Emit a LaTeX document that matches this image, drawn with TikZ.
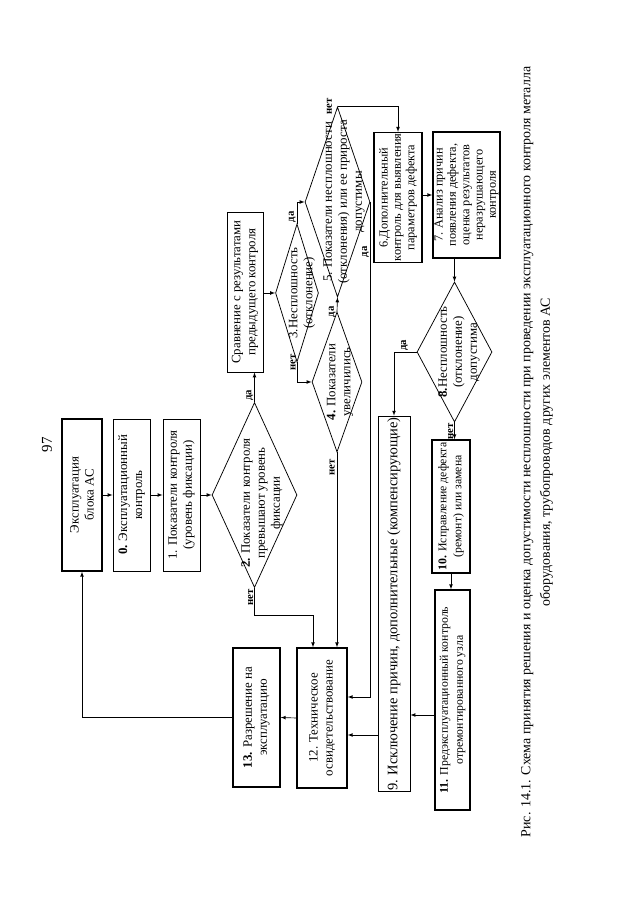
\documentclass[tikz,border=0pt]{standalone}
\usepackage{fontspec}
\setmainfont{Liberation Serif}
\usetikzlibrary{shapes.geometric,calc,positioning}

\begin{document}
\begin{tikzpicture}[x=0.328mm, y=-0.328mm, rotate=90, transform shape,
    sz/.style 2 args={minimum width=#1*0.328mm, minimum height=#2*0.328mm},
    box/.style={draw, rectangle, inner sep=1pt, line width=0.8pt, align=center,
      font=\fontsize{12}{14}\selectfont},
    boxt/.style={box, line width=1.3pt},
    dia/.style={draw, diamond, inner sep=0pt, line width=0.7pt},
    txt/.style={align=center, inner sep=0pt, font=\fontsize{12}{14}\selectfont},
    lbl/.style={inner sep=1pt, font=\fontsize{10}{11}\selectfont\bfseries},
    arr/.style={-latex, line width=0.6pt},
    ln/.style={line width=0.6pt}]
    \useasboundingbox (0,0) rectangle (905,640);

    \node[font=\fontsize{14}{16}\selectfont] (pg) at (460,47) {97};

    % Эксплуатация, контроль
    \node[boxt, sz={152}{40}] (ac) at (410,82) {Эксплуатация\\блока АС};
    \node[box, sz={152}{37}] (b0) at (410,131.5) {\textbf{0.} Эксплуатационный\\контроль};
    \node[box, sz={152}{37}] (b1) at (410,181.5) {1. Показатели контроля\\(уровень фиксации)};
    \node[dia, sz={185}{85}] (d2) at (410,254.5) {};
    \node[txt] (t2) at (402,262) {\textbf{2.} Показатели контроля\\превышают уровень\\фиксации};

    % Сравнение и ромбы 3, 4, 5
    \node[box, sz={160}{36}] (cmp) at (613,245) {Сравнение с результатами\\предыдущего контроля};
    \node[dia, sz={138}{43}] (d3) at (612,297) {};
    \node[txt] (t3) at (612,302) {3.Несплошность\\(отклонение)};
    \node[dia, sz={140}{50}] (d4) at (523,337) {};
    \node[txt] (t4) at (523,340) {\textbf{4.} Показатели\\увеличились};
    \node[dia, sz={190}{65}] (d5) at (703,337.5) {};
    \node[txt] (t5) at (703,344) {5. Показатели несплошности\\(отклонения) или ее прироста\\допустимы};

    % Дефект
    \node[boxt, sz={129}{48}, font=\fontsize{11.5}{12.5}\selectfont] (b6) at (707.5,398)
        {6.Дополнительный\\контроль для выявления\\параметров дефекта};
    \node[boxt, sz={126}{67}, font=\fontsize{11.5}{12.4}\selectfont] (b7) at (710,466.5)
        {7. Анализ причин\\появления дефекта,\\оценка результатов\\неразрушающего\\контроля};
    \node[dia, sz={140}{75}] (d8) at (553,454.5) {};
    \node[txt] (t8) at (553,459) {\textbf{8.}Несплошность\\(отклонение)\\допустима};
    \node[box, sz={372}{32}, font=\fontsize{13.5}{15}\selectfont] (b9) at (301,394)
        {9. Исключение причин, дополнительные (компенсирующие)};
    \node[boxt, sz={133}{38}, font=\fontsize{11}{14}\selectfont] (b10) at (398.5,451)
        {\textbf{10.} Исправление дефекта\\(ремонт) или замена};
    \node[boxt, sz={220}{35}, font=\fontsize{11}{14}\selectfont] (b11) at (205,452.5)
        {\textbf{11.} Предэксплуатационный контроль\\отремонтированного узла};
    \node[boxt, sz={140}{50}] (b12) at (187,322) {12. Техническое\\освидетельствование};
    \node[boxt, sz={139}{47}] (b13) at (187.5,256.5) {\textbf{13.} Разрешение на\\эксплуатацию};

    % точки входа
    \coordinate (in11) at ($(b11.north)+(-15,0)$);
    \coordinate (in12a) at ($(b12.south)+(-17,0)$);
    \coordinate (in12b) at ($(b12.south)+(21,0)$);
    \coordinate (in12c) at ($(b12.east)+(0,-9)$);

    % стрелки
    \draw[arr] (ac) -- (b0);
    \draw[arr] (b0) -- (b1);
    \draw[arr] (b1) -- (d2);
    \draw[arr] (d2.east) -- (d2.east -| cmp.west);
    \draw[arr] (d2.west) -- ++(-27,0) |- (in12c);
    \draw[arr] (cmp.south -| d3.north) -- (d3.north);
    \draw[arr] (d3.east) -| (d5.north);
    \draw[arr] (d3.west) -| (d4.north);
    \draw[arr] (d4.east) -- (d5.west);
    \draw[arr] (d4.west) -- (d4.west -| b12.east);
    \draw[arr] (d5.east) |- (b6.east);
    \draw[arr] (d5.south) -| (in12b);
    \draw[arr] (b7.north |- b6.south) -- (b7.north);
    \draw[arr] (d8.east -| b7.west) -- (d8.east);
    \draw[arr] (d8.north) |- (b9.east);
    \draw[arr] (d8.west) -- (d8.west -| b10.east);
    \draw[arr] (b10.west) -- (b10.west -| b11.east);
    \draw[arr] (in11) -- (in11 |- b9.south);
    \draw[arr] (in12a |- b9.north) -- (in12a);
    \draw[arr] (b12.north) -- (b13.south);
    \draw[arr] (b13.north) |- (ac.west);

    % да / нет
    \node[lbl, above right] (l2y) at (d2.east) {да};
    \node[lbl, above left] (l2n) at (d2.west) {нет};
    \node[lbl, above right] (l3y) at (d3.east) {да};
    \node[lbl, above] (l3n) at (d3.west) {нет};
    \node[lbl, above] (l4y) at (d4.east) {да};
    \node[lbl, above left=1pt and 5pt] (l4n) at (d4.west) {нет};
    \node[lbl, above] (l5y) at ($(d5.south)+(-50,0)$) {да};
    \node[lbl, above=4pt] (l5n) at (d5.east) {нет};
    \node[lbl, right] (l8y) at ($(d8.north)+(0,-12)$) {да};
    \node[lbl, above left] (l8n) at (d8.west) {нет};

    % подпись
    \node[align=center, font=\fontsize{13}{18}\selectfont] (cap) at (453,537)
        {Рис. 14.1. Схема принятия решения и оценка допустимости несплошности при проведении эксплуатационного контроля металла\\
         оборудования, трубопроводов других элементов АС};
\end{tikzpicture}
\end{document}
